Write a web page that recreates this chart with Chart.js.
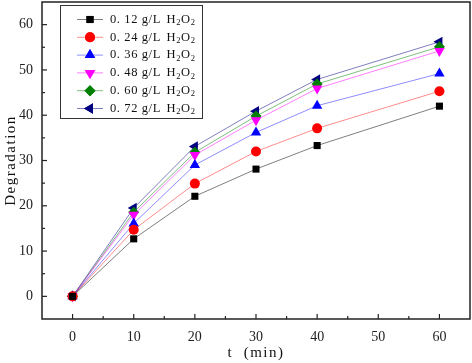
<!DOCTYPE html>
<html><head><meta charset="utf-8">
<script src="https://cdn.jsdelivr.net/npm/chart.js@4/dist/chart.umd.min.js"></script>
<style>html,body{margin:0;padding:0;background:#fff}#wrap{width:472px;height:363px}</style>
</head><body><div id="wrap"><canvas id="c" width="472" height="363"></canvas></div>
<script>
const times = [0, 10, 20, 30, 40, 60];
const labels = ["0.12", "0.24", "0.36", "0.48", "0.60", "0.72"];
const s012 = [0, 12.7, 22.1, 28.1, 33.3, 42.0];
const s024 = [0, 14.7, 24.9, 32.0, 37.1, 45.3];
const s036 = [0, 16.1, 29.0, 36.2, 42.1, 49.2];
const s048 = [0, 18.0, 31.2, 38.9, 45.9, 54.2];
const s060 = [0, 18.6, 31.8, 39.8, 46.9, 55.1];
const s072 = [0, 19.5, 33.1, 40.9, 47.9, 56.2];
const xTicks = [0, 10, 20, 30, 40, 50, 60];
const yTicks = [0, 10, 20, 30, 40, 50, 60];

const styles = [
  {c:'#000000', l:'rgba(0,0,0,0.5)', p:'rect', r:5, rot:0},
  {c:'#ff0000', l:'rgba(255,0,0,0.45)', p:'circle', r:5, rot:0},
  {c:'#0000ff', l:'rgba(0,0,255,0.45)', p:'triangle', r:6, rot:0},
  {c:'#ff00ff', l:'rgba(255,0,255,0.5)', p:'triangle', r:6, rot:180},
  {c:'#008000', l:'rgba(0,128,0,0.5)', p:'rectRot', r:5.5, rot:0},
  {c:'#000080', l:'rgba(0,0,128,0.5)', p:'triangle', r:6, rot:-90}
];
const series = [s012, s024, s036, s048, s060, s072];
const datasets = series.map((s, i) => ({
  label: labels[i] + ' g/L H2O2',
  data: times.map((t, j) => ({x: t, y: s[j]})),
  borderColor: styles[i].l,
  backgroundColor: styles[i].c,
  pointBackgroundColor: styles[i].c,
  pointBorderColor: styles[i].c,
  pointBorderWidth: 0,
  pointStyle: styles[i].p,
  pointRadius: styles[i].r,
  pointRotation: styles[i].rot,
  borderWidth: 1,
  tension: 0
}));

const SERIF = '"Liberation Serif", "DejaVu Serif", serif';

const framePlugin = {
  id: 'frame',
  afterDraw(chart) {
    const {ctx, chartArea: a, scales} = chart;
    ctx.save();
    ctx.strokeStyle = '#222';
    ctx.lineWidth = 1.5;
    ctx.strokeRect(a.left, a.top, a.right - a.left, a.bottom - a.top);
    ctx.lineWidth = 1.2;
    for (let v = 0; v <= 60; v += 5) {
      const len = v % 10 === 0 ? 5 : 3;
      const x = scales.x.getPixelForValue(v);
      ctx.beginPath(); ctx.moveTo(x, a.bottom); ctx.lineTo(x, a.bottom - len); ctx.stroke();
      const y = scales.y.getPixelForValue(v);
      ctx.beginPath(); ctx.moveTo(a.left, y); ctx.lineTo(a.left + len, y); ctx.stroke();
    }
    // legend
    const bx = 60, by = 5, bw = 142, bh = 113;
    ctx.fillStyle = '#fff';
    ctx.fillRect(bx, by, bw, bh);
    ctx.strokeStyle = '#333';
    ctx.lineWidth = 1;
    ctx.strokeRect(bx + 0.5, by + 0.5, bw, bh);
    chart.data.datasets.forEach((ds, i) => {
      const cy = 19.5 + i * 17.8;
      ctx.strokeStyle = ds.borderColor;
      ctx.lineWidth = 1;
      ctx.beginPath(); ctx.moveTo(77, cy); ctx.lineTo(103, cy); ctx.stroke();
      ctx.fillStyle = ds.pointBackgroundColor;
      Chart.helpers.drawPoint(ctx, {pointStyle: ds.pointStyle, radius: ds.pointRadius, rotation: ds.pointRotation, borderWidth: 0}, 90, cy);
      ctx.fill();
      ctx.fillStyle = '#111';
      ctx.textBaseline = 'middle';
      ctx.textAlign = 'left';
      ctx.font = '12.5px ' + SERIF;
      ctx.letterSpacing = '0.6px';
      const lab = labels[i];
      let x = 110;
      const main = lab.slice(0, 2) + ' ' + lab.slice(2) + ' g/L ';
      ctx.fillText(main, x, cy);
      x += ctx.measureText(main).width + 2;
      const parts = [['H', 0], ['2', 1], ['O', 0], ['2', 1]];
      for (const [t, sub] of parts) {
        if (sub) { ctx.font = '8.5px ' + SERIF; ctx.fillText(t, x, cy + 3.5); }
        else { ctx.font = '12.5px ' + SERIF; ctx.fillText(t, x, cy); }
        x += ctx.measureText(t).width;
      }
      ctx.letterSpacing = '0px';
    });
    ctx.fillStyle = '#111';
    ctx.font = '15px ' + SERIF;
    ctx.letterSpacing = '1.5px';
    ctx.textAlign = 'center';
    ctx.textBaseline = 'middle';
    ctx.fillText('t  (min)', (a.left + a.right) / 2, 353);
    ctx.translate(11, (a.top + a.bottom) / 2);
    ctx.rotate(-Math.PI / 2);
    ctx.fillText('Degradation', 0, 0);
    ctx.restore();
  }
};

new Chart(document.getElementById('c'), {
  type: 'line',
  data: {datasets},
  options: {
    responsive: false,
    animation: false,
    layout: {autoPadding: false, padding: {top: 2, right: 2, left: 0, bottom: 0}},
    plugins: {legend: {display: false}, tooltip: {enabled: false}},
    scales: {
      x: {
        type: 'linear', min: -5, max: 65,
        afterBuildTicks(s) { s.ticks = xTicks.map(v => ({value: v})); },
        afterFit(s) { s.height = 44; s.paddingLeft = 0; s.paddingRight = 0; },
        grid: {display: false, drawTicks: false},
        border: {display: false},
        ticks: {padding: 10, color: '#222', font: {family: SERIF, size: 14}, maxRotation: 0, autoSkip: false}
      },
      y: {
        type: 'linear', min: -5, max: 65,
        afterBuildTicks(s) { s.ticks = yTicks.map(v => ({value: v})); },
        afterFit(s) { s.width = 42; s.paddingTop = 0; s.paddingBottom = 0; },
        grid: {display: false, drawTicks: false},
        border: {display: false},
        ticks: {padding: 9, color: '#222', font: {family: SERIF, size: 14}, autoSkip: false}
      }
    }
  },
  plugins: [framePlugin]
});
</script>
</body></html>
